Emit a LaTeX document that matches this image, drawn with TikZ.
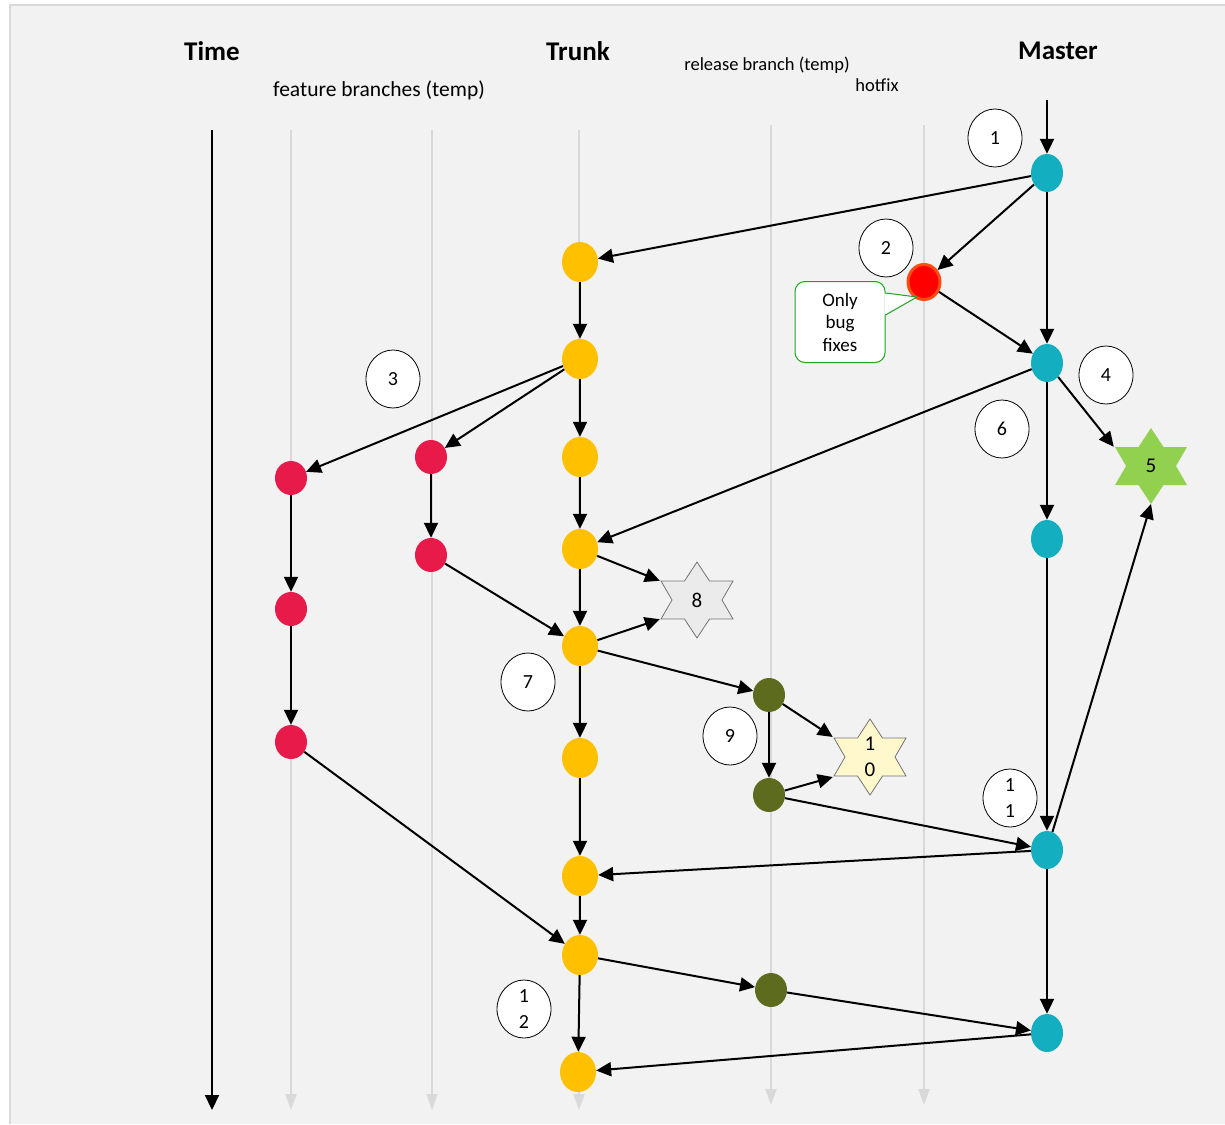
\documentclass[tikz,border=0pt]{standalone}
\usepackage{fontspec}
\setmainfont{Carlito}
\usetikzlibrary{arrows.meta,shapes.geometric}
\definecolor{panel}{HTML}{F2F2F2}
\definecolor{panelborder}{HTML}{D9D9D9}
\definecolor{lanegray}{HTML}{D9D9D9}
\definecolor{mteal}{HTML}{14AEC1}
\definecolor{tyellow}{HTML}{FFC000}
\definecolor{fred}{HTML}{E81A4A}
\definecolor{rolive}{HTML}{5C6B1E}
\definecolor{hred}{HTML}{FF0000}
\definecolor{hborder}{HTML}{FF4A10}
\definecolor{sgreen}{HTML}{92D050}
\definecolor{sgray}{HTML}{EBEBEB}
\definecolor{syellow}{HTML}{FFF8CC}
\definecolor{cgreen}{HTML}{1FA31F}
\begin{document}
\begin{tikzpicture}[x=1pt,y=-1pt,
  flow/.style={-{Triangle[length=15pt,width=14pt]}, line width=2pt, black},
  lane/.style={draw=lanegray, line width=2pt, -{Triangle[length=16pt,width=11pt]}},
  commit/.style={ellipse, inner sep=0pt},
  mnode/.style={commit, fill=mteal, minimum width=32pt, minimum height=38pt},
  tnode/.style={commit, fill=tyellow, minimum width=36pt, minimum height=40pt},
  fnode/.style={commit, fill=fred, minimum width=32pt, minimum height=34pt},
  rnode/.style={commit, fill=rolive, minimum width=32pt, minimum height=34pt},
  numc/.style={ellipse, draw=black, line width=0.8pt, fill=white, minimum width=54pt, minimum height=58pt, inner sep=0pt, font=\fontsize{20}{26}\selectfont, align=center},
  starlbl/.style={rectangle, minimum width=74pt, minimum height=38pt, inner sep=0pt, font=\fontsize{21}{26}\selectfont, align=center},
  starbody/.style={line width=0.8pt, line join=miter},
  callbox/.style={rectangle, draw=cgreen, line width=1pt, fill=white, rounded corners=10pt, minimum width=90pt, minimum height=81pt, inner sep=2pt, align=center, font=\fontsize{19}{22.5}\selectfont},
  head/.style={font=\fontsize{27}{30}\selectfont\bfseries},
]
\useasboundingbox (0,0) rectangle (1225,1124);
\fill[white] (0,0) rectangle (1225,1124);
\fill[panel] (10,5) rectangle (1225,1124);
\draw[panelborder, line width=2pt] (10,1124) -- (10,5) -- (1225,5);

% headers
\node[head] (hTime) at (212,51) {Time};
\node[head] (hTrunk) at (578,51) {Trunk};
\node[head] (hMaster) at (1058,51) {Master};
\node[font=\fontsize{21.5}{24}\selectfont] (hFeat) at (379,90) {feature branches (temp)};
\node[font=\fontsize{18.5}{21}\selectfont] (hRel) at (767,65) {release branch (temp)};
\node[font=\fontsize{18.5}{21}\selectfont] (hHot) at (877,85) {hotfix};

% lanes
\coordinate (l1t) at (291,130); \coordinate (l1b) at (291,1110);
\coordinate (l2t) at (432,130); \coordinate (l2b) at (432,1110);
\coordinate (l3t) at (579,130); \coordinate (l3b) at (579,1110);
\coordinate (l4t) at (771,125); \coordinate (l4b) at (771,1105);
\coordinate (l5t) at (924,125); \coordinate (l5b) at (924,1105);
\draw[lane] (l1t) -- (l1b);
\draw[lane] (l2t) -- (l2b);
\draw[lane] (l3t) -- (l3b);
\draw[lane] (l4t) -- (l4b);
\draw[lane] (l5t) -- (l5b);
\coordinate (timet) at (212,130); \coordinate (timeb) at (212,1110);
\draw[flow] (timet) -- (timeb);

% master
\node[mnode] (M1) at (1047,173) {};
\node[mnode] (M2) at (1047,363) {};
\node[mnode] (M3) at (1047,539) {};
\node[mnode] (M4) at (1047,850) {};
\node[mnode] (M5) at (1047,1033) {};
% trunk
\node[tnode] (T1) at (580,262) {};
\node[tnode] (T2) at (580,359) {};
\node[tnode] (T3) at (580,457) {};
\node[tnode] (T4) at (580,549) {};
\node[tnode] (T5) at (580,646) {};
\node[tnode] (T6) at (580,758) {};
\node[tnode] (T7) at (580,876) {};
\node[tnode] (T8) at (580,955) {};
\node[tnode] (T9) at (578,1072) {};
% hotfix
\node[commit, fill=hred, draw=hborder, line width=3pt, minimum width=32pt, minimum height=35pt] (H) at (924,282) {};
% feature
\node[fnode] (F1) at (291,478) {};
\node[fnode] (F2) at (291,609) {};
\node[fnode] (F3) at (291,742) {};
\node[fnode] (G1) at (431,457) {};
\node[fnode] (G2) at (431,555) {};
% release
\node[rnode] (R1) at (769,695) {};
\node[rnode] (R2) at (769,795) {};
\node[rnode] (R3) at (771,990) {};

% stars (hexagrams, slightly wide)
\def\hexstar{(0,-38) -- (12.5,-19) -- (36,-19) -- (25,0) -- (36,19) -- (12.5,19) -- (0,38) -- (-12.5,19) -- (-36,19) -- (-25,0) -- (-36,-19) -- (-12.5,-19) -- cycle}
\coordinate (S8c) at (697,600);
\coordinate (S10c) at (870,757);
\coordinate (S5c) at (1151,466);
\draw[starbody, fill=sgray, draw=black!55, shift={(S8c)}] \hexstar;
\draw[starbody, fill=syellow, draw=black!55, shift={(S10c)}] \hexstar;
\fill[sgreen, shift={(S5c)}] \hexstar;
\node[starlbl] (S8) at (S8c) {8};
\node[starlbl] (S10) at (S10c) {1\\0};
\node[starlbl] (S5) at (S5c) {5};
\coordinate (S5b) at (1151,504);

% numbered circles
\node[numc] (c1) at (995,138) {1};
\node[numc] (c2) at (886,248) {2};
\node[numc] (c3) at (393,379) {3};
\node[numc] (c4) at (1106,375) {4};
\node[numc] (c6) at (1002,429) {6};
\node[numc] (c7) at (528,682) {7};
\node[numc] (c9) at (730,736) {9};
\node[numc] (c11) at (1010,798) {1\\1};
\node[numc] (c12) at (524,1009) {1\\2};

% callout
\node[callbox] (C) at (840,322) {Only\\bug\\fixes};
\coordinate (Ctip) at (917,297);
\fill[white, shift={(C.east)}] (-1.2,-28.5) -- (Ctip) -- (-1.2,-7.5) -- cycle;
\draw[cgreen, line width=1pt, line join=round, shift={(C.east)}] (0,-29) -- (Ctip) -- (0,-7);

% connectors
\coordinate (mtop) at (1047,100);
\draw[flow] (mtop) -- (M1);
\draw[flow] (M1) -- (T1);
\draw[flow] (M1) -- (H);
\draw[flow] (H) -- (M2);
\draw[flow] (M1) -- (M2);
\draw[flow] (T1) -- (T2);
\draw[flow] (T2) -- (T3);
\draw[flow] (T2) -- (F1);
\draw[flow] (T2) -- (G1);
\draw[flow] (G1) -- (G2);
\draw[flow] (G2) -- (T5);
\draw[flow] (F1) -- (F2);
\draw[flow] (F2) -- (F3);
\draw[flow] (F3) -- (T8);
\draw[flow] (M2) -- (T4);
\draw[flow] (M2) -- (S5.north west);
\draw[flow] (M2) -- (M3);
\draw[flow] (T3) -- (T4);
\draw[flow] (T4) -- (T5);
\draw[flow] (T4) -- (S8.north west);
\draw[flow] (T5) -- (S8.south west);
\draw[flow] (T5) -- (R1);
\draw[flow] (T5) -- (T6);
\draw[flow] (T6) -- (T7);
\draw[flow] (R1) -- (R2);
\draw[flow] (R1) -- (S10.north west);
\draw[flow] (R2) -- (S10.south west);
\draw[flow] (R2) -- (M4);
\draw[flow] (M3) -- (M4);
\draw[flow] (M4) -- (S5b);
\draw[flow] (M4) -- (T7);
\draw[flow] (T7) -- (T8);
\draw[flow] (T8) -- (T9);
\draw[flow] (T8) -- (R3);
\draw[flow] (R3) -- (M5);
\draw[flow] (M4) -- (M5);
\draw[flow] (M5) -- (T9);
\end{tikzpicture}
\end{document}
